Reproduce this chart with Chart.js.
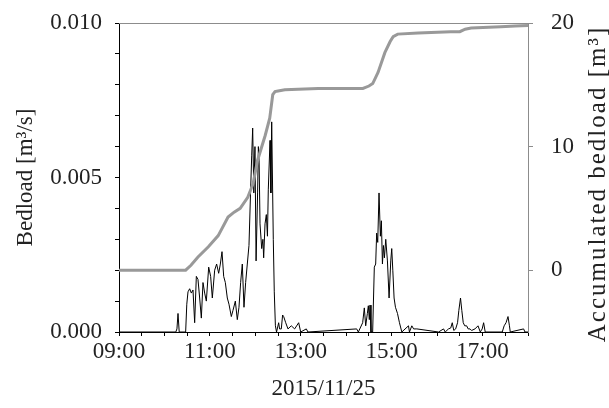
<!DOCTYPE html>
<html>
<head>
<meta charset="utf-8">
<script src="https://cdn.jsdelivr.net/npm/chart.js@4.4.1/dist/chart.umd.min.js"></script>
<style>
  html, body { margin: 0; padding: 0; background: #fff; }
</style>
</head>
<body>
<canvas id="chart" width="609" height="408"></canvas>
<script>
// minutes after 09:00 on 2015/11/25
const bedTime = [0, 75, 76.5, 77.9, 79.5, 88, 89.5, 91.1, 93.3, 95.5, 97.7, 99.9, 102.1, 104.3, 106.5, 108.7,
  110.9, 113.1, 115.3, 118.4, 121.0, 123.2, 126.3, 128.9, 131.6, 133.8, 136.0, 138.2, 140.4, 143.0, 145.2,
  148.3, 150.5, 153.6, 156.2, 158.4, 160.6, 162.8, 165.0, 167.2, 169.4, 171.6, 173.8, 175.2, 176.5, 178,
  179.5, 181, 183, 184, 185, 186.2, 188.4, 190, 191, 192.8, 194.5, 196, 197.1, 199.4, 200.5, 201.6, 203.7,
  205, 206.5, 208, 210.8, 212, 214.3, 216, 217.4, 220.1, 223.1, 227.5, 231.9, 237.2, 239.9, 247.3, 249.5,
  313.8, 316, 321.7, 323.9, 325.7, 327.9, 329.2, 330.5, 331.4, 332.7, 334.9, 337.1, 338.9, 340.2, 341.6,
  343.3, 345.1, 346.4, 347.8, 349.1, 350.4, 352.2, 354.4, 356.6, 358.8, 360.1, 361.5, 363.2, 365.0, 367.7,
  370.3, 373.4, 382.2, 383.5, 386.6, 389, 393.3, 421.9, 428.5, 430.7, 435, 438, 440, 442, 444.5, 447,
  448.7, 450.9, 452.6, 454.5, 456.5, 459, 461, 463.5, 465.5, 470, 474, 477, 479.5, 481.4, 483.5, 506,
  508.5, 511, 513.6, 515.5, 516.6, 534.2, 536, 540];
const bedload = [0, 0, 0.0001, 0.0006, 0, 0, 0.0009, 0.0013, 0.0014, 0.00126, 0.00136, 0.0003, 0.0018, 0.0017,
  0.0011, 0.00045, 0.0016, 0.00126, 0.001, 0.0021, 0.0018, 0.0011, 0.002, 0.0022, 0.0019, 0.0022, 0.0026,
  0.0018, 0.0016, 0.0011, 0.0009, 0.0005, 0.0007, 0.001, 0.0004, 0.0008, 0.0016, 0.0022, 0.0008, 0.0016,
  0.0022, 0.0028, 0.0046, 0.0057, 0.0066, 0.0045, 0.006, 0.0023, 0.0045, 0.006, 0.0055, 0.0035, 0.0027,
  0.003, 0.0024, 0.0035, 0.0038, 0.0031, 0.0046, 0.0062, 0.0045, 0.0068, 0.003, 0.0013, 0.0002, 0, 0.0003,
  0.0001, 0.0001, 0.00055, 0.0005, 0.0003, 0.0001, 0.0002, 0.0001, 0.0003, 0, 0.0001, 0,
  0.0001, 0, 0.0003, 0.00078, 0.0002, 0.0006, 0.00085, 0.0004, 0.00087, 0, 0, 0.0021, 0.0022, 0.0032,
  0.0029, 0.0045, 0.0031, 0.0036, 0.0022, 0.0028, 0.0024, 0.003, 0.0023, 0.0011, 0.0023, 0.0027, 0.002,
  0.0011, 0.0008, 0.0006, 0.0003, 0, 0.0002, 0, 0.0002, 0.0001, 0.0001, 0, 0.0001, 0, 0.0001, 0.00013,
  0.0003, 0.00005, 0.0001, 0.0003, 0.0007, 0.0011, 0.0007, 0.0003, 0.0002, 0.0002, 0.0001, 0.0001, 0.00005,
  0.0001, 0.0002, 0, 0.0001, 0.0003, 0, 0, 0.0002, 0.0003, 0.0005, 0.0002, 0, 0.0001, 0, 0];

const accTime = [0, 88, 95, 104, 118, 131, 144, 152, 160, 170, 177, 183, 193, 199, 203, 206, 210, 219, 263,
  322, 330, 335, 342, 351, 358, 362, 368, 395, 438, 450, 457, 465, 504, 523, 540];
const accumulated = [0, 0, 0.4, 1.05, 1.9, 2.8, 4.3, 4.7, 5.0, 5.9, 7.0, 8.9, 10.9, 12.3, 14.2, 14.45, 14.5,
  14.6, 14.7, 14.7, 14.9, 15.1, 16.0, 17.6, 18.5, 18.9, 19.1, 19.2, 19.3, 19.3, 19.5, 19.6, 19.7, 19.75, 19.8];

const xTickLabels = ['09:00', '11:00', '13:00', '15:00', '17:00'];
const leftTickLabels = ['0.000', '0.005', '0.010'];
const rightTicks = [0, 10, 20];

const xTitle = '2015/11/25';
const leftTitle = 'Bedload [m\u00b3/s]';
const rightTitle = 'Accumulated bedload [m\u00b3]';

const TEXT = '#222';
const GREY = '#999';
const FRAME_GREY = '#8c8c8c';
const FAMILY = '"Liberation Serif", "Times New Roman", serif';
const FONT = { family: FAMILY, size: 23 };

const framePlugin = {
  id: 'frame',
  afterDraw(chart) {
    const { ctx, chartArea: a } = chart;
    ctx.save();
    ctx.strokeStyle = FRAME_GREY;
    ctx.lineWidth = 1;
    ctx.beginPath();
    ctx.moveTo(a.left, Math.round(a.top) + 0.5);
    ctx.lineTo(a.right, Math.round(a.top) + 0.5);
    ctx.stroke();
    // right title reads bottom-to-top like the left one
    ctx.translate(598, 184);
    ctx.rotate(-Math.PI / 2);
    ctx.font = '25px ' + FAMILY;
    ctx.letterSpacing = '2px';
    ctx.fillStyle = TEXT;
    ctx.textAlign = 'center';
    ctx.textBaseline = 'middle';
    ctx.fillText(rightTitle, 0, 0);
    ctx.restore();
  }
};

new Chart(document.getElementById('chart'), {
  type: 'line',
  data: {
    datasets: [
      {
        label: 'Accumulated',
        data: accTime.map((t, i) => ({ x: t, y: accumulated[i] })),
        yAxisID: 'y2',
        borderColor: GREY,
        borderWidth: 3,
        pointRadius: 0,
        tension: 0,
        order: 0
      },
      {
        label: 'Bedload',
        data: bedTime.map((t, i) => ({ x: t, y: bedload[i] })),
        yAxisID: 'y',
        borderColor: '#000',
        borderWidth: 1,
        pointRadius: 0,
        tension: 0,
        order: 1
      }
    ]
  },
  options: {
    responsive: false,
    animation: false,
    devicePixelRatio: 1,
    layout: { padding: { top: 23, left: 0, right: 0, bottom: 0 } },
    plugins: { legend: { display: false }, tooltip: { enabled: false } },
    scales: {
      x: {
        type: 'linear',
        min: 0,
        max: 540,
        afterFit(s) { s.height = 76; },
        border: { color: '#000' },
        grid: { drawOnChartArea: false, tickLength: 4, color: '#000' },
        ticks: {
          stepSize: 30,
          autoSkip: false,
          maxRotation: 0,
          padding: 2,
          color: TEXT,
          font: FONT,
          callback: v => (v % 120 === 0 ? xTickLabels[v / 120] : '')
        },
        title: { display: true, text: xTitle, color: TEXT, font: FONT, padding: { top: 0, bottom: 5 } }
      },
      y: {
        position: 'left',
        min: 0,
        max: 0.01,
        afterFit(s) { s.width = 119; s.paddingTop = 0; s.paddingBottom = 0; },
        border: { color: '#000' },
        grid: { drawOnChartArea: false, tickLength: 4, color: '#000' },
        ticks: {
          stepSize: 0.001,
          autoSkip: false,
          padding: 13,
          color: TEXT,
          font: FONT,
          callback: v => {
            const i = Math.round(v * 1000);
            return i % 5 === 0 ? leftTickLabels[i / 5] : '';
          }
        },
        title: { display: true, text: leftTitle, color: TEXT, font: FONT, padding: { top: 12, bottom: 0 } }
      },
      y2: {
        position: 'right',
        min: -5,
        max: 20,
        afterFit(s) { s.width = 81; s.paddingTop = 0; s.paddingBottom = 0; },
        afterBuildTicks(s) { s.ticks = rightTicks.map(v => ({ value: v })); },
        border: { color: FRAME_GREY },
        grid: { drawOnChartArea: false, tickLength: 5, color: FRAME_GREY },
        ticks: {
          autoSkip: false,
          padding: 18,
          color: TEXT,
          font: FONT,
          callback: v => String(v)
        }
      }
    }
  },
  plugins: [framePlugin]
});
</script>
</body>
</html>
